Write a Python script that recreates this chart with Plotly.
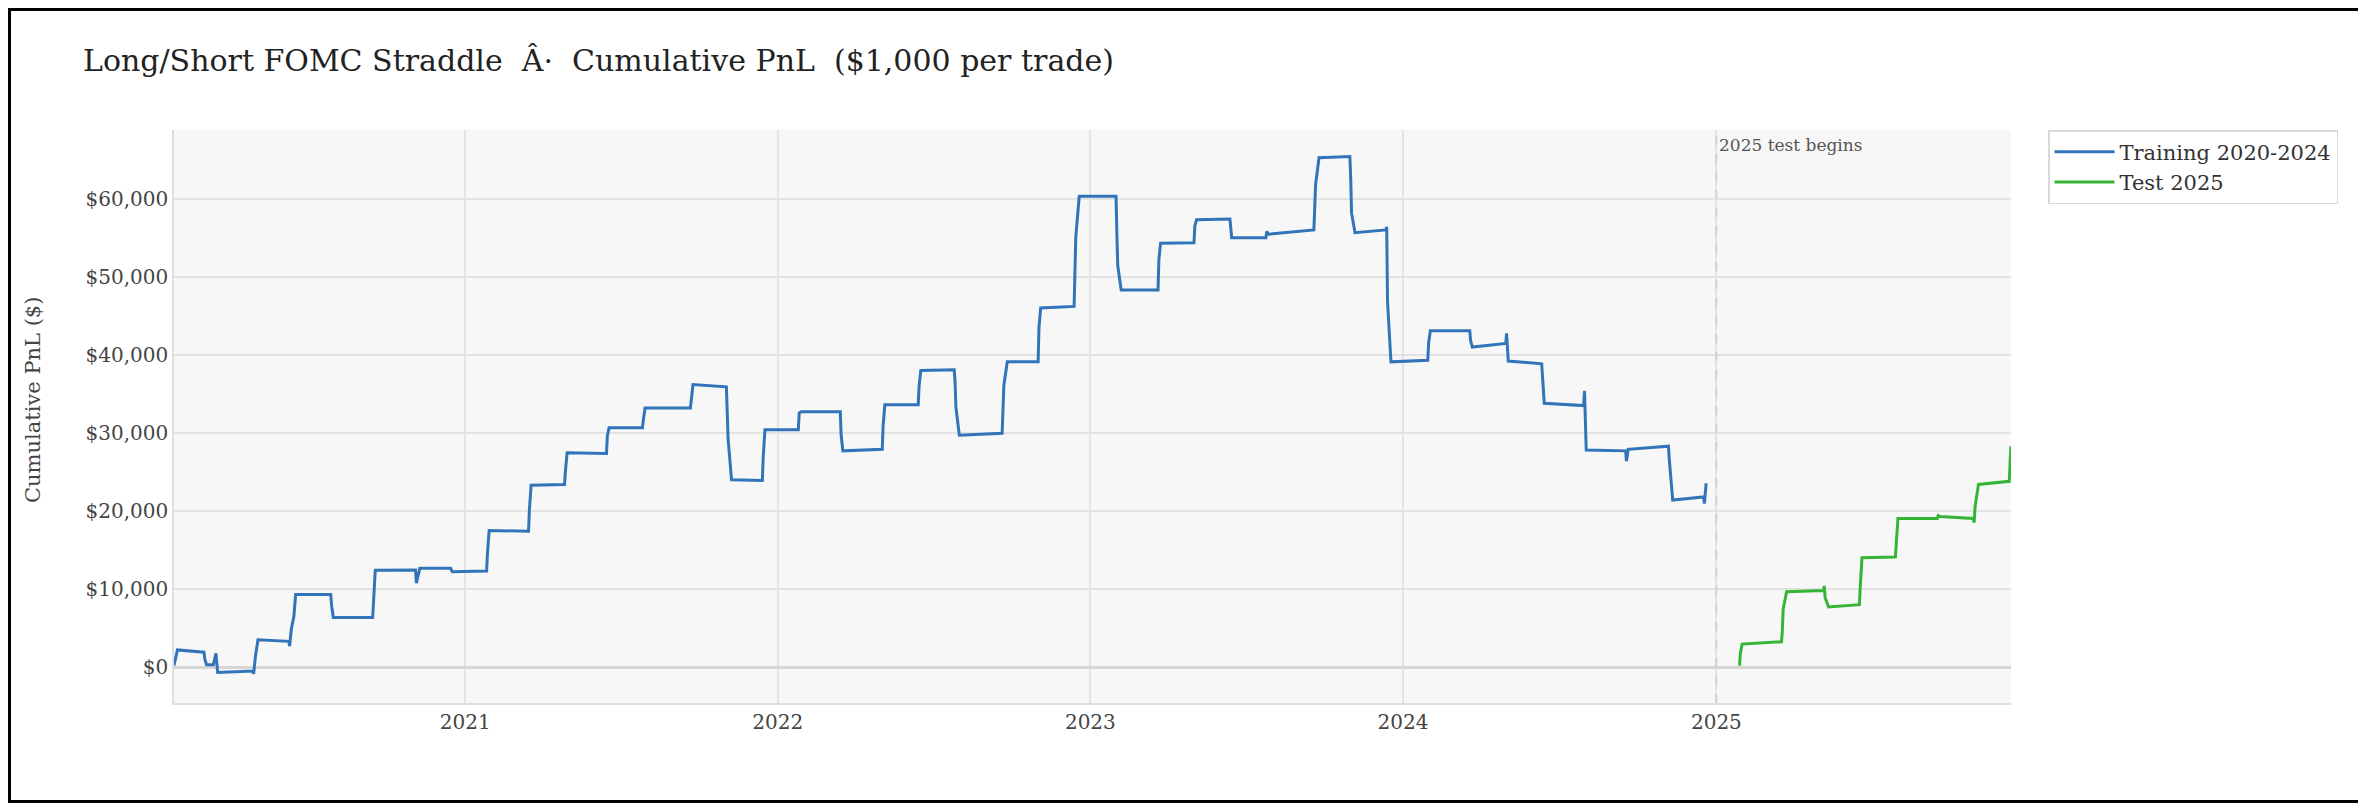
import plotly.graph_objects as go

# ---- data ----
train_dates = [
    "2020-01-27", "2020-01-29", "2020-01-31",
    "2020-03-02", "2020-03-03", "2020-03-05",
    "2020-03-13", "2020-03-16", "2020-03-18",
    "2020-04-28", "2020-04-29", "2020-05-01", "2020-05-04",
    "2020-06-09", "2020-06-10", "2020-06-12", "2020-06-15", "2020-06-17",
    "2020-07-28", "2020-07-29", "2020-07-31",
    "2020-09-15", "2020-09-16", "2020-09-18",
    "2020-11-04", "2020-11-05", "2020-11-09",
    "2020-12-15", "2020-12-17",
    "2021-01-26", "2021-01-27", "2021-01-29",
    "2021-03-16", "2021-03-17", "2021-03-19",
    "2021-04-27", "2021-04-28", "2021-04-30",
    "2021-06-15", "2021-06-16", "2021-06-18",
    "2021-07-27", "2021-07-28", "2021-07-30",
    "2021-09-21", "2021-09-22", "2021-09-24",
    "2021-11-02", "2021-11-03", "2021-11-04", "2021-11-08",
    "2021-12-14", "2021-12-15", "2021-12-17",
    "2022-01-25", "2022-01-26", "2022-01-28",
    "2022-03-15", "2022-03-16", "2022-03-18",
    "2022-05-03", "2022-05-04", "2022-05-06",
    "2022-06-14", "2022-06-15", "2022-06-17",
    "2022-07-26", "2022-07-27", "2022-07-28", "2022-08-01",
    "2022-09-20", "2022-09-21", "2022-09-22", "2022-09-26",
    "2022-11-01", "2022-11-02", "2022-11-04",
    "2022-12-13", "2022-12-14", "2022-12-15", "2022-12-19",
    "2023-01-31", "2023-02-01", "2023-02-02", "2023-02-06",
    "2023-03-21", "2023-03-22", "2023-03-24",
    "2023-05-02", "2023-05-03", "2023-05-05",
    "2023-06-13", "2023-06-15",
    "2023-07-25", "2023-07-26", "2023-07-28",
    "2023-09-19", "2023-09-20", "2023-09-21", "2023-09-25",
    "2023-10-31", "2023-11-01", "2023-11-02", "2023-11-06",
    "2023-12-12", "2023-12-13", "2023-12-14", "2023-12-18",
    "2024-01-30", "2024-01-31", "2024-02-02",
    "2024-03-19", "2024-03-20", "2024-03-22",
    "2024-04-30", "2024-05-01", "2024-05-03",
    "2024-06-11", "2024-06-12", "2024-06-14",
    "2024-07-30", "2024-07-31", "2024-08-02",
    "2024-09-17", "2024-09-18", "2024-09-20",
    "2024-11-06", "2024-11-07", "2024-11-11",
    "2024-12-17", "2024-12-18", "2024-12-20",
]
train_pnl = [
    200, 1300, 2200,
    1900, 1000, 300,
    300, 1750, -700,
    -500, -850, 1300, 3500,
    3300, 2700, 4850, 6500, 9300,
    9300, 7900, 6350,
    6350, 8800, 12400,
    12450, 10750, 12650,
    12650, 12200,
    12300, 14550, 17500,
    17400, 20200, 23300,
    23400, 25000, 27450,
    27350, 29600, 30650,
    30650, 31600, 33200,
    33200, 34450, 36200,
    35900, 32300, 29250, 24000,
    23900, 26900, 30400,
    30400, 32550, 32700,
    32700, 29700, 27700,
    27900, 30900, 33600,
    33600, 36000, 38000,
    38100, 36600, 33300, 29700,
    29950, 32800, 36100, 39100,
    39100, 43500, 46000,
    46200, 49900, 55100, 60300,
    60300, 55300, 51400, 48300,
    48300, 52200, 54300,
    54350, 56500, 57300,
    57400, 55000,
    55000, 55800, 55450,
    56000, 58600, 61800, 65250,
    65400, 62650, 58150, 55650,
    56000, 56400, 46800, 39100,
    39300, 41550, 43100,
    43100, 41800, 41000,
    41450, 42750, 39200,
    38850, 37050, 33800,
    33500, 35400, 27800,
    27700, 26400, 27900,
    28300, 26600, 21400,
    21800, 20950, 23550,
]

test_dates = [
    "2025-01-28", "2025-01-29", "2025-01-31",
    "2025-03-18", "2025-03-19", "2025-03-20", "2025-03-24",
    "2025-05-06", "2025-05-07", "2025-05-08", "2025-05-12",
    "2025-06-17", "2025-06-18", "2025-06-20",
    "2025-07-29", "2025-07-30", "2025-08-01",
    "2025-09-16", "2025-09-17", "2025-09-19",
    "2025-10-28", "2025-10-29", "2025-10-30", "2025-11-03",
    "2025-12-09", "2025-12-10", "2025-12-11",
]
test_pnl = [
    200, 1750, 2950,
    3250, 4600, 7450, 9650,
    9800, 10400, 8850, 7700,
    8000, 10300, 14000,
    14100, 15750, 19050,
    19050, 19400, 19300,
    19050, 18500, 20500, 23400,
    23800, 26400, 28300,
]

test_start = "2025-01-01"
y_range = [-4600, 68800]

FONT = "Georgia, 'DejaVu Serif', serif"

# figure geometry (page body adds an 8px offset)
W, H = 2358, 795
ML, MR, MT, MB = 166, 355, 122, 100
PW, PH = W - ML - MR, H - MT - MB


def px_to_paper_x(px):
    return (px - ML) / PW


def px_to_paper_y(py):
    return (H - MB - py) / PH


fig = go.Figure()
fig.add_trace(go.Scatter(
    x=train_dates, y=train_pnl, mode="lines", name="Training 2020-2024",
    line=dict(color="#3174ba", width=3),
))
fig.add_trace(go.Scatter(
    x=test_dates, y=test_pnl, mode="lines", name="Test 2025",
    line=dict(color="#35b535", width=3),
))

# test start marker
fig.add_shape(type="line", xref="x", yref="paper", x0=test_start, x1=test_start,
              y0=0, y1=1, line=dict(color="#d2d2d2", width=2, dash="dash"))
fig.add_annotation(x=test_start, xref="x", y=1, yref="paper", text="2025 test begins",
                   showarrow=False, xanchor="left", yanchor="top", xshift=1, yshift=-3,
                   font=dict(family=FONT, size=17, color="#555555"))

# y-axis title
fig.add_annotation(x=px_to_paper_x(25), xref="paper", y=px_to_paper_y(392), yref="paper",
                   text="Cumulative PnL ($)",
                   showarrow=False, textangle=-90, xanchor="center", yanchor="middle",
                   font=dict(family=FONT, size=21, color="#444444"))

# outer frame
fig.add_shape(type="rect", xref="paper", yref="paper",
              x0=px_to_paper_x(1.5), x1=px_to_paper_x(W - 1.5),
              y0=px_to_paper_y(H - 1.5), y1=px_to_paper_y(1.5),
              line=dict(color="black", width=3), layer="above")

fig.update_layout(
    width=W, height=H,
    margin=dict(l=ML, r=MR, t=MT, b=MB),
    paper_bgcolor="white",
    plot_bgcolor="#f7f7f7",
    font=dict(family=FONT, size=20, color="#444444"),
    title=dict(text="Long/Short FOMC Straddle  Â·  Cumulative PnL  ($1,000 per trade)",
               x=75 / W, xanchor="left", y=1 - 52 / H, yanchor="middle",
               font=dict(family=FONT, size=30, color="#222222")),
    legend=dict(x=px_to_paper_x(2040), xanchor="left", y=1.0, yanchor="top",
                bgcolor="white", bordercolor="#d9d9d9", borderwidth=1.5,
                tracegroupgap=4, itemwidth=60,
                font=dict(family=FONT, size=21, color="#333333")),
    showlegend=True,
)
fig.update_xaxes(
    type="date", range=[min(train_dates), max(test_dates)],
    dtick="M12", tick0="2021-01-01", tickformat="%Y",
    showgrid=True, gridcolor="#e3e3e3", gridwidth=1.5,
    showline=True, linecolor="#dedede", linewidth=1.5,
    ticks="", tickfont=dict(family=FONT, size=20, color="#444444"),
)
fig.update_yaxes(
    range=y_range, dtick=10000, tickprefix="$", tickformat=",d",
    showgrid=True, gridcolor="#e3e3e3", gridwidth=1.5,
    zeroline=True, zerolinecolor="#d6d6d6", zerolinewidth=3,
    showline=True, linecolor="#dedede", linewidth=1.5,
    ticks="", tickfont=dict(family=FONT, size=20, color="#444444"),
)

fig.write_html("out.html")
